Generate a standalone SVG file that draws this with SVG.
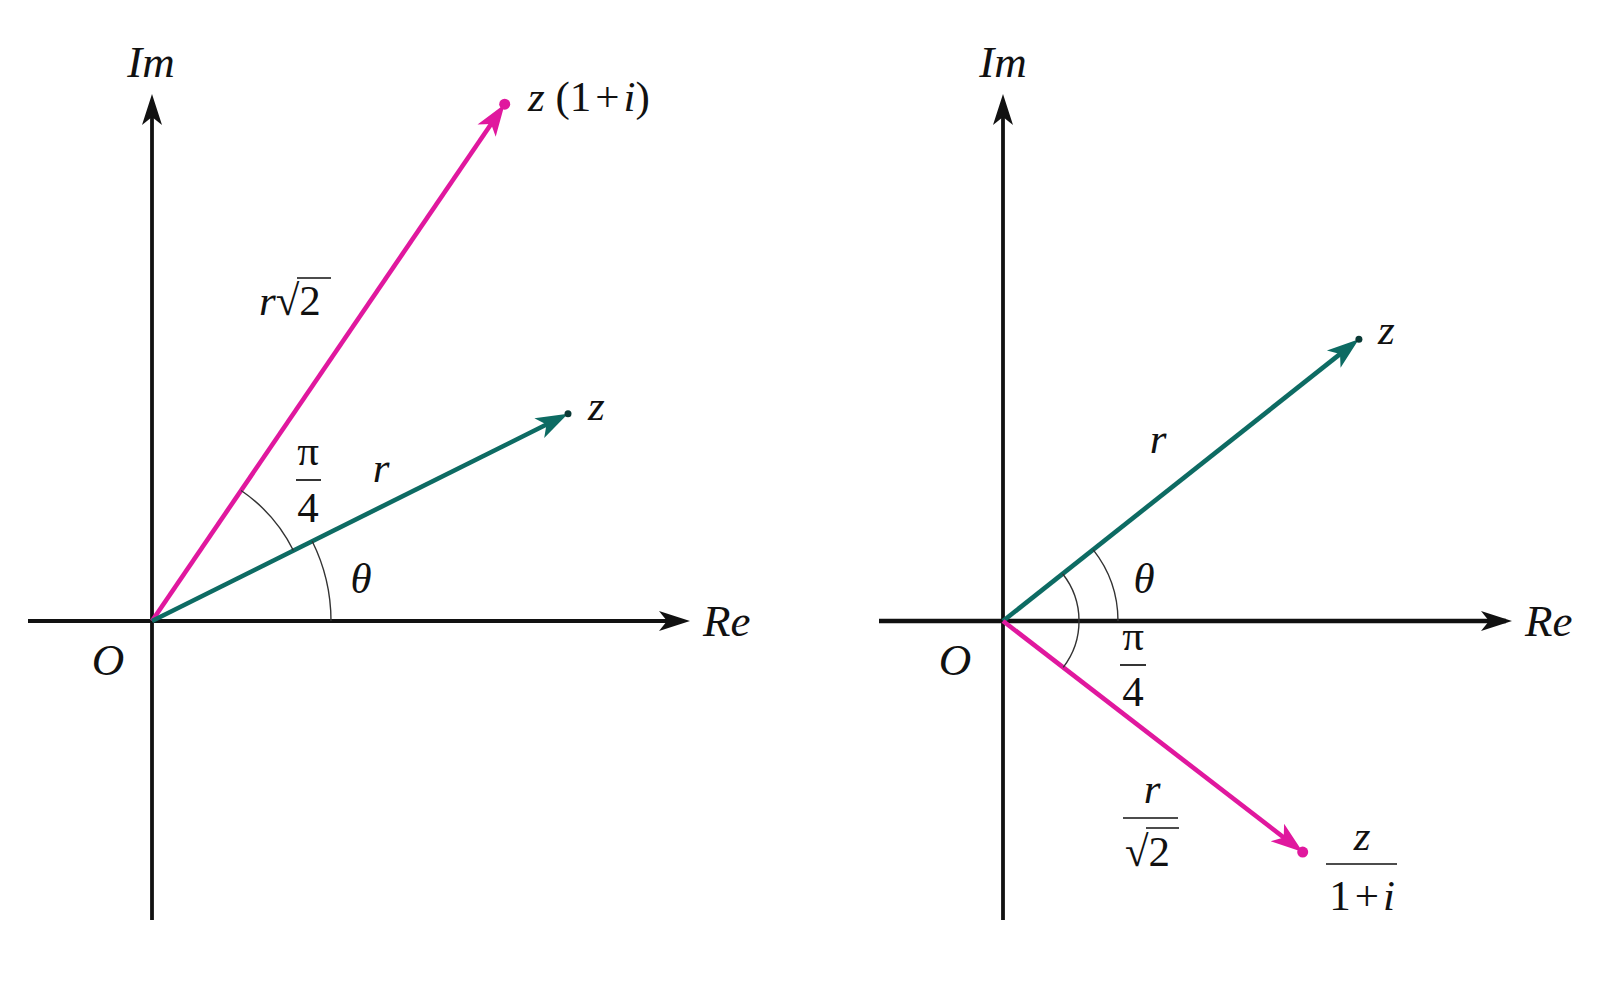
<svg xmlns="http://www.w3.org/2000/svg" width="1602" height="982" viewBox="0 0 1602 982">
<style>
.ax{stroke:#111;stroke-width:3.8;fill:none}
.mg{stroke:#e0189e;stroke-width:4.6;fill:none}
.tl{stroke:#0d6b63;stroke-width:4.6;fill:none}
.arc{stroke:#333;stroke-width:1.4;fill:none}
.fr{stroke:#111;stroke-width:1.7}
text{font-family:"Liberation Serif","Times New Roman",serif;fill:#111;font-size:43px}
.big{font-size:45px}
.it{font-style:italic}
.m{text-anchor:middle}
</style>
<defs>
<marker id="ah" markerUnits="userSpaceOnUse" markerWidth="40" markerHeight="30" viewBox="-34 -12 40 24" refX="-6" refY="0" orient="auto"><path d="M0,0 L-31,-10 L-23,0 L-31,10 Z" fill="#111"/></marker>
<marker id="am" markerUnits="userSpaceOnUse" markerWidth="44" markerHeight="32" viewBox="-38 -14 44 28" refX="-10" refY="0" orient="auto"><path d="M0,0 L-32,-11 L-24,0 L-32,11 Z" fill="#e0189e"/></marker>
<marker id="at" markerUnits="userSpaceOnUse" markerWidth="44" markerHeight="32" viewBox="-38 -14 44 28" refX="-10" refY="0" orient="auto"><path d="M0,0 L-32,-11 L-24,0 L-32,11 Z" fill="#0d6b63"/></marker>
</defs>
<rect width="1602" height="982" fill="#fff"/>
<g id="connectors">
<line class="ax" x1="152" y1="920" x2="152" y2="100" marker-end="url(#ah)"/>
<line class="ax" x1="28" y1="621" x2="684" y2="621" marker-end="url(#ah)"/>
<line class="ax" x1="1003" y1="920" x2="1003" y2="100" marker-end="url(#ah)"/>
<line class="ax" x1="879" y1="621" x2="1506" y2="621" style="stroke-width:4.6" marker-end="url(#ah)"/>
<line class="mg" x1="152" y1="621" x2="499" y2="112.5" marker-end="url(#am)"/>
<line class="tl" x1="152" y1="621" x2="559" y2="418.3" marker-end="url(#at)"/>
<line class="tl" x1="1003" y1="621" x2="1351" y2="345.4" marker-end="url(#at)"/>
<line class="mg" x1="1003" y1="621" x2="1294.8" y2="846" marker-end="url(#am)"/>
<path class="arc" d="M331,621 A179,179 0 0 0 312.2,541.2"/>
<path class="arc" d="M293.4,550.5 A158,158 0 0 0 241.1,490.5"/>
<path class="arc" d="M1118,621 A115,115 0 0 0 1093.1,549.6"/>
<path class="arc" d="M1062.6,573.8 A76,76 0 0 1 1063.2,667.4"/>
</g>
<g id="points">
<circle cx="504.7" cy="104.2" r="5.5" fill="#e0189e"/>
<circle cx="568" cy="413.8" r="3.5" fill="#0a3a36"/>
<circle cx="1358.9" cy="339.2" r="3.5" fill="#0a3a36"/>
<circle cx="1302.7" cy="852.1" r="5.5" fill="#e0189e"/>
</g>
<g id="left-labels">
<text class="it m big" x="151" y="77">Im</text>
<text class="it big" x="703" y="636">Re</text>
<text class="it m big" x="108" y="675">O</text>
<text x="528" y="111"><tspan class="it">z</tspan> (1<tspan dx="4">+</tspan><tspan class="it" dx="4">i</tspan>)</text>
<text class="it" x="588" y="420">z</text>
<g id="l-rsqrt2"><text x="259" y="315"><tspan class="it">r</tspan>√2</text><line class="fr" x1="297" y1="278" x2="331" y2="278"/></g>
<g id="l-pi4"><text class="m" x="308" y="465">π</text><line class="fr" x1="296" y1="480" x2="321" y2="480"/><text class="m" x="308" y="522">4</text></g>
<text class="it m" x="381" y="482">r</text>
<text class="it m" x="361" y="593">θ</text>
</g>
<g id="right-labels">
<text class="it m big" x="1003" y="77">Im</text>
<text class="it big" x="1525" y="636">Re</text>
<text class="it m big" x="955" y="675">O</text>
<text class="it" x="1378" y="344">z</text>
<text class="it m" x="1158" y="453">r</text>
<text class="it m" x="1144" y="593">θ</text>
<g id="r-pi4"><text class="m" x="1133" y="650">π</text><line class="fr" x1="1120" y1="665" x2="1146" y2="665"/><text class="m" x="1133" y="706">4</text></g>
<g id="r-rsqrt2"><text class="it m" x="1152" y="803">r</text><line class="fr" x1="1123" y1="818" x2="1178" y2="818"/><text x="1125" y="866">√2</text><line class="fr" x1="1146" y1="828" x2="1179" y2="828"/></g>
<g id="r-zfrac"><text class="it m" x="1362" y="850">z</text><line class="fr" x1="1326" y1="864" x2="1397" y2="864"/><text class="m" x="1362" y="910">1<tspan dx="4">+</tspan><tspan class="it" dx="4">i</tspan></text></g>
</g>
</svg>
